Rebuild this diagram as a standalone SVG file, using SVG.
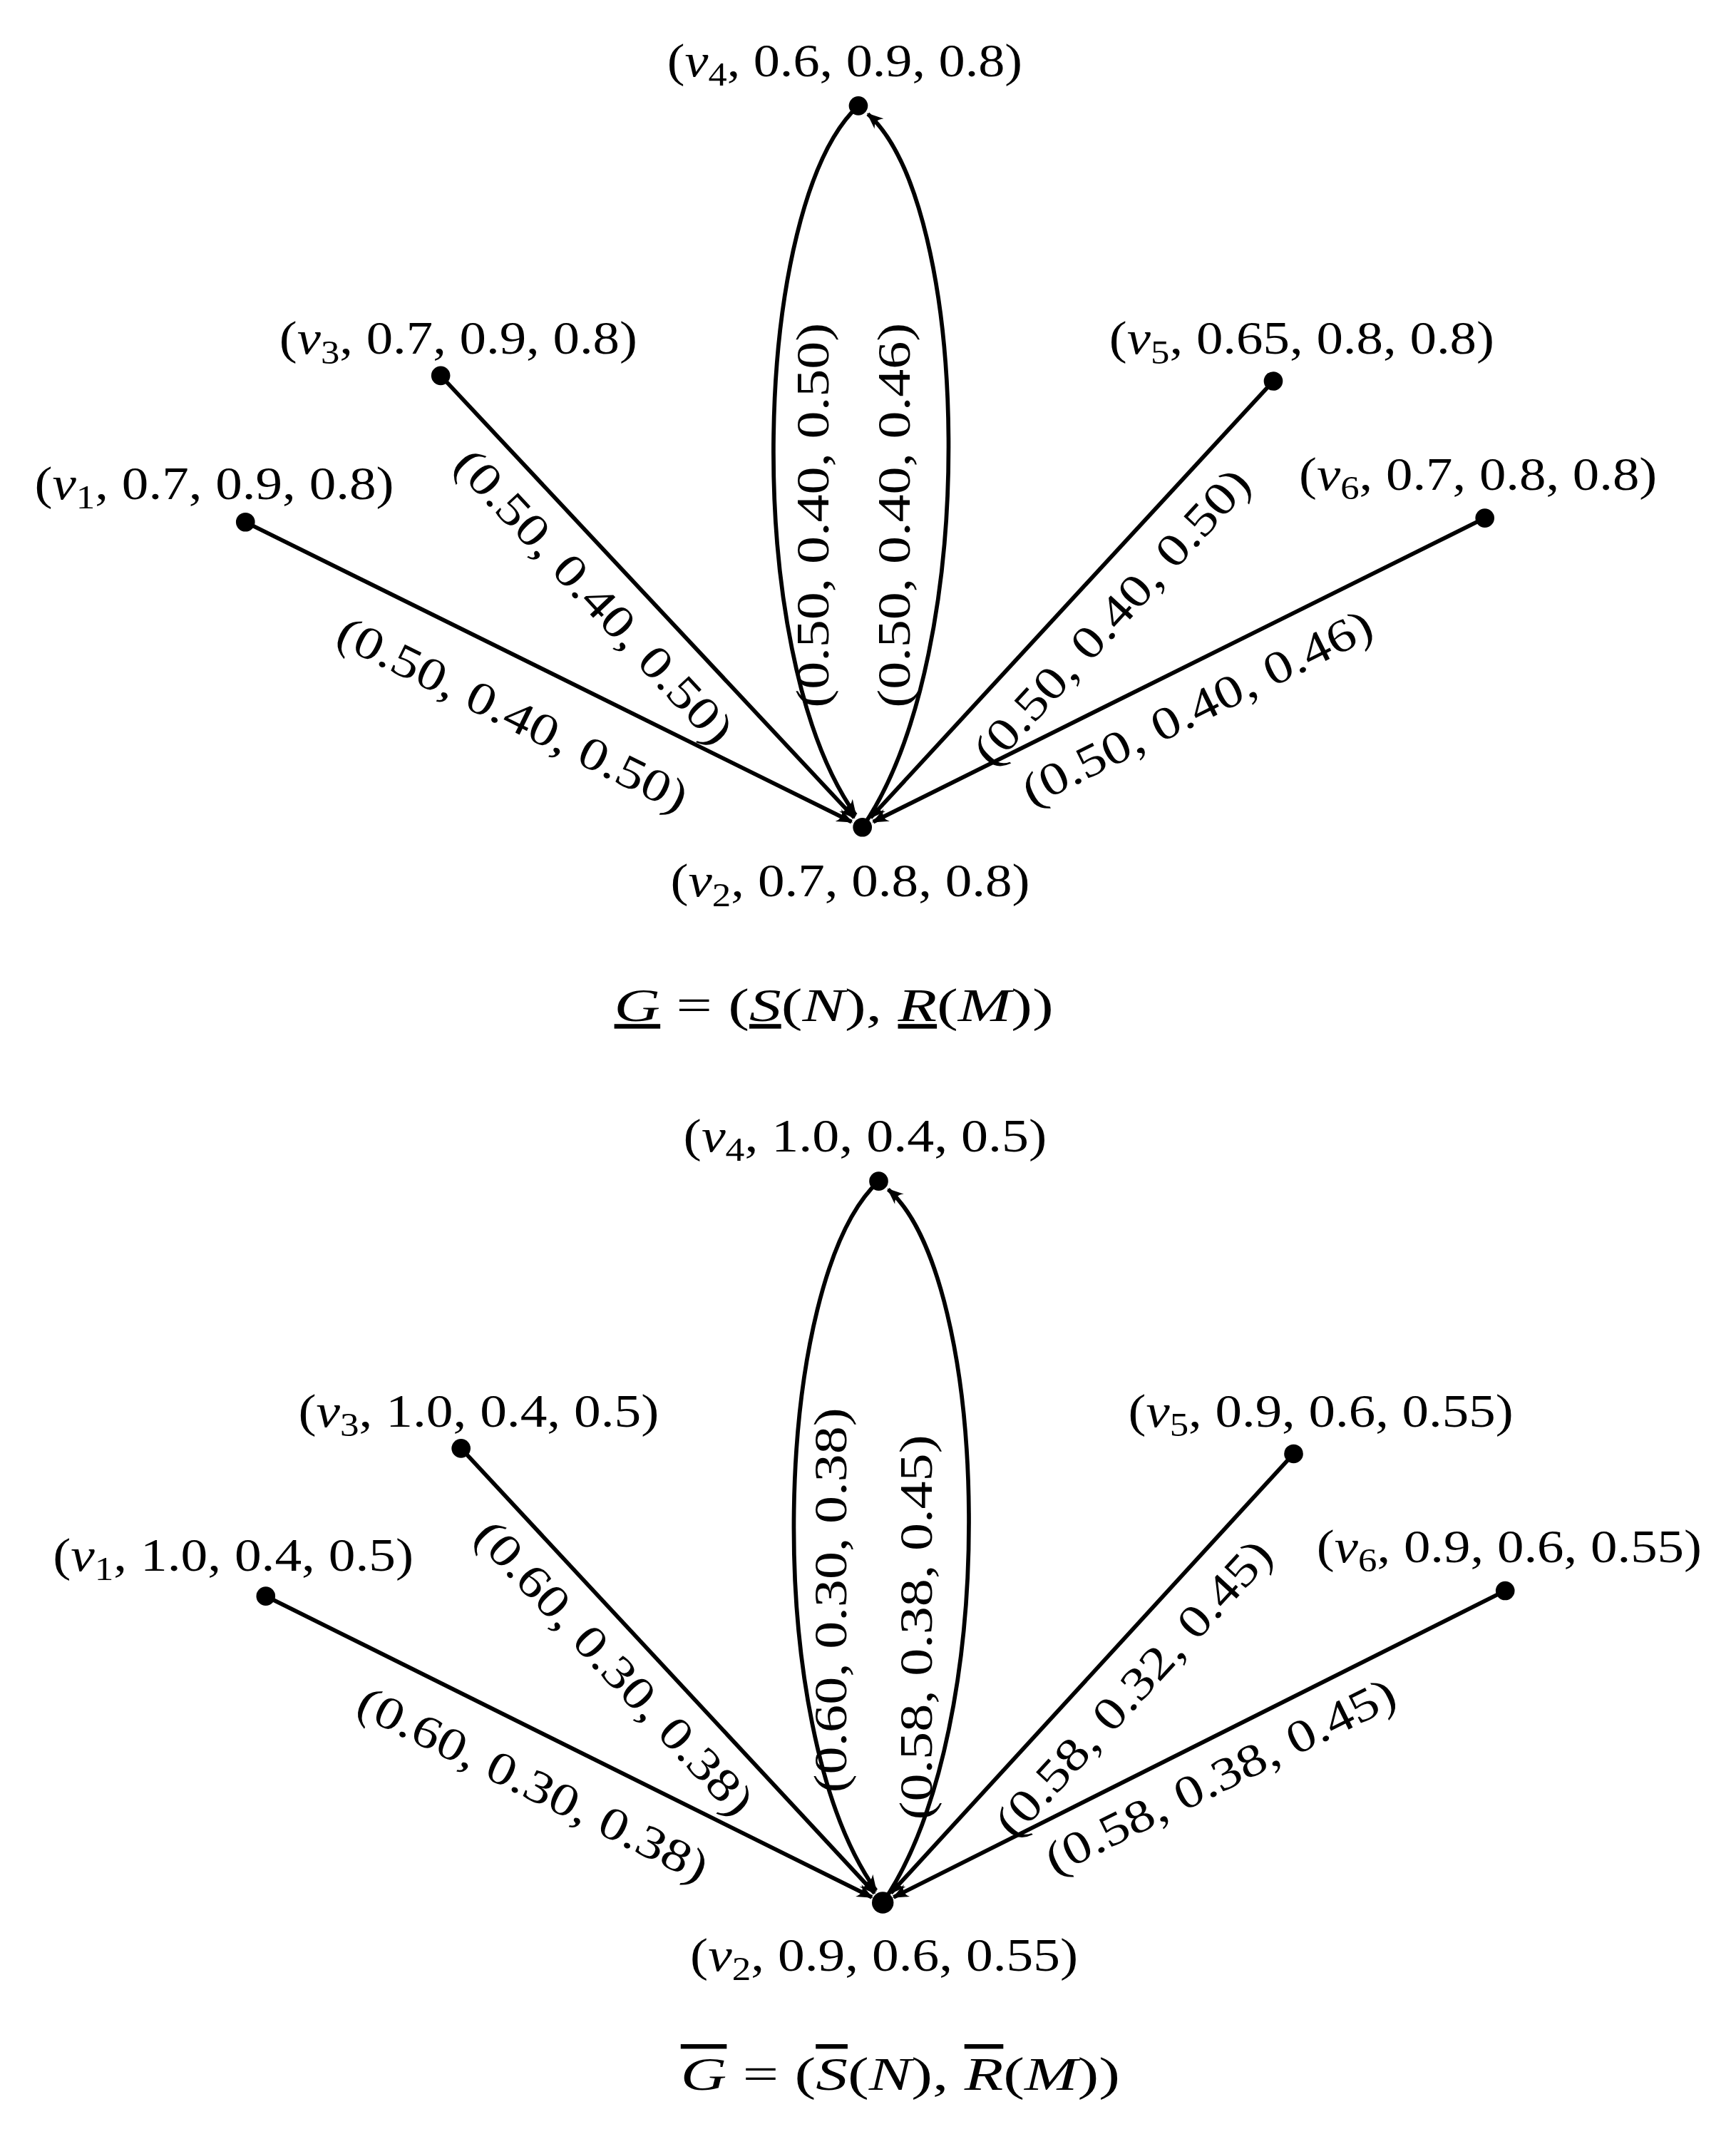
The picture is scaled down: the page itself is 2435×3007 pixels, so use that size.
<svg xmlns="http://www.w3.org/2000/svg" width="2435" height="3007" viewBox="0 0 2435 3007">
<style>
text{font-family:"Liberation Serif","DejaVu Serif",serif;font-size:34px;fill:#000}
.i{font-style:italic}
.e{stroke:#000;stroke-width:3;fill:none;marker-end:url(#ah)}
.n{fill:#000}
</style>
<defs>
<marker id="ah" viewBox="0 0 12 10" refX="11" refY="5" markerWidth="12" markerHeight="10" markerUnits="userSpaceOnUse" orient="auto">
<path d="M0,0 Q5,5 0,10 L12,5 Z" fill="#000"/>
</marker>
</defs>
<rect width="2435" height="3007" fill="#fff"/>
<g transform="scale(1.902)">
<g id="connectors">
<line class="e" x1="181" y1="385" x2="628" y2="606"/>
<line class="e" x1="325" y1="277" x2="630" y2="603"/>
<line class="e" x1="939" y1="281" x2="642" y2="603"/>
<line class="e" x1="1095" y1="382" x2="644" y2="606"/>
<path class="e" d="M633,78 C555,150 545,480 631,601"/>
<path class="e" d="M636,610 C725,480 715,150 640,84"/>
<line class="e" x1="196" y1="1177" x2="643" y2="1399"/>
<line class="e" x1="340" y1="1068" x2="645" y2="1396"/>
<line class="e" x1="954" y1="1072" x2="657" y2="1396"/>
<line class="e" x1="1110" y1="1173" x2="659" y2="1399"/>
<path class="e" d="M648,871 C570,943 560,1273 646,1394"/>
<path class="e" d="M651,1403 C740,1273 730,943 655,877"/>
<g>
<text transform="rotate(26.3 378 527)" x="378" y="538" text-anchor="middle" textLength="284" lengthAdjust="spacingAndGlyphs">(0.50, 0.40, 0.50)</text>
<text transform="rotate(47 438 440)" x="438" y="451" text-anchor="middle" textLength="284" lengthAdjust="spacingAndGlyphs">(0.50, 0.40, 0.50)</text>
<text transform="rotate(-47.4 820 455)" x="820" y="466" text-anchor="middle" textLength="284" lengthAdjust="spacingAndGlyphs">(0.50, 0.40, 0.50)</text>
<text transform="rotate(-26.4 883 522)" x="883" y="533" text-anchor="middle" textLength="284" lengthAdjust="spacingAndGlyphs">(0.50, 0.40, 0.46)</text>
<text transform="rotate(-90 600 380)" x="600" y="391" text-anchor="middle" textLength="284" lengthAdjust="spacingAndGlyphs">(0.50, 0.40, 0.50)</text>
<text transform="rotate(-90 660 380)" x="660" y="391" text-anchor="middle" textLength="284" lengthAdjust="spacingAndGlyphs">(0.50, 0.40, 0.46)</text>
<text transform="rotate(26.3 393 1316)" x="393" y="1327" text-anchor="middle" textLength="284" lengthAdjust="spacingAndGlyphs">(0.60, 0.30, 0.38)</text>
<text transform="rotate(47 453 1230)" x="453" y="1241" text-anchor="middle" textLength="284" lengthAdjust="spacingAndGlyphs">(0.60, 0.30, 0.38)</text>
<text transform="rotate(-47.4 836 1245)" x="836" y="1256" text-anchor="middle" textLength="284" lengthAdjust="spacingAndGlyphs">(0.58, 0.32, 0.45)</text>
<text transform="rotate(-26.4 900 1310)" x="900" y="1321" text-anchor="middle" textLength="284" lengthAdjust="spacingAndGlyphs">(0.58, 0.38, 0.45)</text>
<text transform="rotate(-90 613 1180)" x="613" y="1191" text-anchor="middle" textLength="284" lengthAdjust="spacingAndGlyphs">(0.60, 0.30, 0.38)</text>
<text transform="rotate(-90 676 1200)" x="676" y="1211" text-anchor="middle" textLength="284" lengthAdjust="spacingAndGlyphs">(0.58, 0.38, 0.45)</text>
</g>
</g>
<g id="v4a"><circle class="n" cx="633" cy="78" r="7"/><text x="623" y="56" text-anchor="middle" textLength="262" lengthAdjust="spacingAndGlyphs">(<tspan class="i">v</tspan><tspan font-size="24" dy="7">4</tspan><tspan dy="-7">, 0.6, 0.9, 0.8)</tspan></text></g>
<g id="v3a"><circle class="n" cx="325" cy="277" r="7"/><text x="338" y="261" text-anchor="middle" textLength="264" lengthAdjust="spacingAndGlyphs">(<tspan class="i">v</tspan><tspan font-size="24" dy="7">3</tspan><tspan dy="-7">, 0.7, 0.9, 0.8)</tspan></text></g>
<g id="v5a"><circle class="n" cx="939" cy="281" r="7"/><text x="960" y="261" text-anchor="middle" textLength="284" lengthAdjust="spacingAndGlyphs">(<tspan class="i">v</tspan><tspan font-size="24" dy="7">5</tspan><tspan dy="-7">, 0.65, 0.8, 0.8)</tspan></text></g>
<g id="v1a"><circle class="n" cx="181" cy="385" r="7"/><text x="158" y="368" text-anchor="middle" textLength="265" lengthAdjust="spacingAndGlyphs">(<tspan class="i">v</tspan><tspan font-size="24" dy="7">1</tspan><tspan dy="-7">, 0.7, 0.9, 0.8)</tspan></text></g>
<g id="v6a"><circle class="n" cx="1095" cy="382" r="7"/><text x="1090" y="361" text-anchor="middle" textLength="264" lengthAdjust="spacingAndGlyphs">(<tspan class="i">v</tspan><tspan font-size="24" dy="7">6</tspan><tspan dy="-7">, 0.7, 0.8, 0.8)</tspan></text></g>
<g id="v2a"><circle class="n" cx="636" cy="610" r="7"/><text x="627" y="661" text-anchor="middle" textLength="265" lengthAdjust="spacingAndGlyphs">(<tspan class="i">v</tspan><tspan font-size="24" dy="7">2</tspan><tspan dy="-7">, 0.7, 0.8, 0.8)</tspan></text></g>
<g id="title1"><text x="615" y="753" text-anchor="middle" textLength="324" lengthAdjust="spacingAndGlyphs"><tspan class="i" text-decoration="underline">G</tspan> = (<tspan class="i" text-decoration="underline">S</tspan>(<tspan class="i">N</tspan>), <tspan class="i" text-decoration="underline">R</tspan>(<tspan class="i">M</tspan>))</text></g>
<g id="v4b"><circle class="n" cx="648" cy="871" r="7"/><text x="638" y="849" text-anchor="middle" textLength="268" lengthAdjust="spacingAndGlyphs">(<tspan class="i">v</tspan><tspan font-size="24" dy="7">4</tspan><tspan dy="-7">, 1.0, 0.4, 0.5)</tspan></text></g>
<g id="v3b"><circle class="n" cx="340" cy="1068" r="7"/><text x="353" y="1052" text-anchor="middle" textLength="266" lengthAdjust="spacingAndGlyphs">(<tspan class="i">v</tspan><tspan font-size="24" dy="7">3</tspan><tspan dy="-7">, 1.0, 0.4, 0.5)</tspan></text></g>
<g id="v5b"><circle class="n" cx="954" cy="1072" r="7"/><text x="974" y="1052" text-anchor="middle" textLength="284" lengthAdjust="spacingAndGlyphs">(<tspan class="i">v</tspan><tspan font-size="24" dy="7">5</tspan><tspan dy="-7">, 0.9, 0.6, 0.55)</tspan></text></g>
<g id="v1b"><circle class="n" cx="196" cy="1177" r="7"/><text x="172" y="1158" text-anchor="middle" textLength="266" lengthAdjust="spacingAndGlyphs">(<tspan class="i">v</tspan><tspan font-size="24" dy="7">1</tspan><tspan dy="-7">, 1.0, 0.4, 0.5)</tspan></text></g>
<g id="v6b"><circle class="n" cx="1110" cy="1173" r="7"/><text x="1113" y="1152" text-anchor="middle" textLength="284" lengthAdjust="spacingAndGlyphs">(<tspan class="i">v</tspan><tspan font-size="24" dy="7">6</tspan><tspan dy="-7">, 0.9, 0.6, 0.55)</tspan></text></g>
<g id="v2b"><circle class="n" cx="651" cy="1403" r="8"/><text x="652" y="1453" text-anchor="middle" textLength="286" lengthAdjust="spacingAndGlyphs">(<tspan class="i">v</tspan><tspan font-size="24" dy="7">2</tspan><tspan dy="-7">, 0.9, 0.6, 0.55)</tspan></text></g>
<g id="title2"><text x="664" y="1541" text-anchor="middle" textLength="324" lengthAdjust="spacingAndGlyphs"><tspan class="i" text-decoration="overline">G</tspan> = (<tspan class="i" text-decoration="overline">S</tspan>(<tspan class="i">N</tspan>), <tspan class="i" text-decoration="overline">R</tspan>(<tspan class="i">M</tspan>))</text></g>
</g>
</svg>
